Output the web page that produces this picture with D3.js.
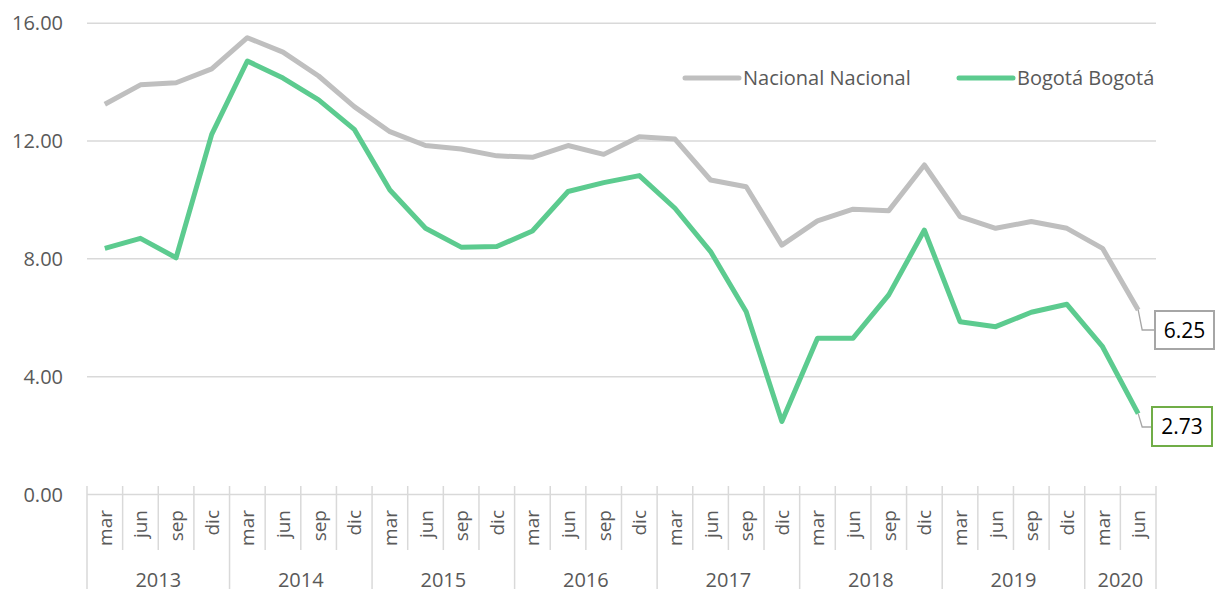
<!DOCTYPE html>
<html lang="es">
<head>
<meta charset="UTF-8">
<title>Nacional vs Bogotá</title>
<script src="https://cdn.jsdelivr.net/npm/d3@7/dist/d3.min.js"></script>
<style>
  body { margin: 0; background: #fff; }
  svg { display: block; font-family: "Open Sans", sans-serif; }
</style>
</head>
<body>
<script>
// datos trimestrales
var quarters = ["mar", "jun", "sep", "dic"];
var years = ["2013", "2014", "2015", "2016", "2017", "2018", "2019", "2020"];
var quartersPerYear = [4, 4, 4, 4, 4, 4, 4, 2];
var nacional = [13.23, 13.89, 13.96, 14.43, 15.49, 15.00, 14.19, 13.15, 12.30, 11.83,
                11.71, 11.48, 11.43, 11.83, 11.53, 12.13, 12.05, 10.66, 10.43, 8.45,
                9.27, 9.67, 9.62, 11.17, 9.42, 9.02, 9.25, 9.02, 8.34, 6.25];
var bogota = [8.34, 8.68, 8.02, 12.21, 14.70, 14.12, 13.38, 12.38, 10.32, 9.02,
              8.38, 8.40, 8.93, 10.27, 10.57, 10.81, 9.70, 8.23, 6.19, 2.46,
              5.29, 5.29, 6.76, 8.96, 5.85, 5.68, 6.17, 6.44, 5.00, 2.73];
var yTicks = [0, 4, 8, 12, 16];
var seriesNames = ["Nacional Nacional", "Bogotá Bogotá"];

var W = 1221, H = 589;
var plotLeft = 87, plotRight = 1156, plotTop = 22.7, plotBase = 494;

// categorias: un elemento por trimestre
var cats = [];
years.forEach(function (yr, yi) {
    for (var q = 0; q < quartersPerYear[yi]; q++) cats.push({ year: yr, q: quarters[q] });
});

var svg = d3.select("body").append("svg").attr("width", W).attr("height", H);

var x = d3.scaleBand().domain(d3.range(cats.length)).range([plotLeft, plotRight]).paddingInner(0).paddingOuter(0);
var bw = x.bandwidth();
var y = d3.scaleLinear().domain([0, 16]).range([plotBase, plotTop]);
var cx = function (i) { return x(i) + bw / 2; };

// eje y + grilla
var yAxis = d3.axisLeft(y).tickValues(yTicks).tickFormat(d3.format(".2f")).tickSize(-(plotRight - plotLeft)).tickPadding(24);
var gy = svg.append("g").attr("transform", "translate(" + plotLeft + ",0)").call(yAxis);
gy.select(".domain").remove();
gy.selectAll(".tick line").attr("stroke", "#d9d9d9").attr("stroke-width", 1.5);
gy.selectAll(".tick text").attr("fill", "#595959").style("font-size", "20px")
    .style("font-family", "Open Sans").attr("dy", "0.36em");

// separadores del eje x
var bounds = d3.range(cats.length + 1);
var yearStarts = [0];
quartersPerYear.reduce(function (acc, n) { yearStarts.push(acc + n); return acc + n; }, 0);
svg.append("g").selectAll("line").data(bounds).enter().append("line")
    .attr("x1", function (b) { return b < cats.length ? x(b) : plotRight; })
    .attr("x2", function (b) { return b < cats.length ? x(b) : plotRight; })
    .attr("y1", 486)
    .attr("y2", function (b) { return yearStarts.indexOf(b) >= 0 ? H : 550; })
    .attr("stroke", "#d9d9d9").attr("stroke-width", 1.5);

// etiquetas de trimestre (rotadas)
svg.append("g").selectAll("text").data(cats).enter().append("text")
    .attr("transform", function (d, i) { return "translate(" + (cx(i) + 7) + ",510) rotate(-90)"; })
    .attr("text-anchor", "end")
    .attr("fill", "#595959").style("font-size", "19px")
    .text(function (d) { return d.q; });

// etiquetas de año
svg.append("g").selectAll("text").data(years).enter().append("text")
    .attr("x", function (d, i) {
        var a = yearStarts[i], b = yearStarts[i + 1];
        return (x(a) + (b < cats.length ? x(b) : plotRight)) / 2;
    })
    .attr("y", 587)
    .attr("text-anchor", "middle")
    .attr("fill", "#595959").style("font-size", "20px")
    .text(function (d) { return d; });

// lineas
var line = d3.line().x(function (d, i) { return cx(i); }).y(function (d) { return y(d); });
var colors = ["#bfbfbf", "#5ccb8f"];
[nacional, bogota].forEach(function (s, k) {
    svg.append("path").datum(s).attr("d", line)
        .attr("fill", "none").attr("stroke", colors[k]).attr("stroke-width", 5)
        .attr("stroke-linejoin", "round");
});

// leyenda
var legX = [685, 959];
var leg = svg.append("g");
seriesNames.forEach(function (n, k) {
    leg.append("line").attr("x1", legX[k]).attr("x2", legX[k] + 54).attr("y1", 78).attr("y2", 78)
        .attr("stroke", colors[k]).attr("stroke-width", 5).attr("stroke-linecap", "round");
    leg.append("text").attr("x", legX[k] + 58).attr("y", 78).attr("dy", "0.35em")
        .attr("fill", "#595959").style("font-size", "20px").text(n);
});

// etiquetas del ultimo valor
var last = cats.length - 1;
var labels = [
    { v: nacional[last], border: "#a6a6a6", bx: 1155, by: 311, bw: 59, bh: 38, ly: 330 },
    { v: bogota[last], border: "#70ad47", bx: 1152, by: 407, bw: 60, bh: 39, ly: 427 }
];
labels.forEach(function (l) {
    var px = cx(last), py = y(l.v);
    svg.append("path")
        .attr("d", "M" + px + "," + py + "L" + (px + 4) + "," + l.ly + "L" + l.bx + "," + l.ly)
        .attr("fill", "none").attr("stroke", "#a6a6a6").attr("stroke-width", 1.3);
    svg.append("rect").attr("x", l.bx).attr("y", l.by).attr("width", l.bw).attr("height", l.bh)
        .attr("fill", "#fff").attr("stroke", l.border).attr("stroke-width", 2);
    svg.append("text").attr("x", l.bx + l.bw / 2).attr("y", l.by + l.bh / 2).attr("dy", "0.36em")
        .attr("text-anchor", "middle").attr("fill", "#000").style("font-size", "21px")
        .text(d3.format(".2f")(l.v));
});
</script>
</body>
</html>
